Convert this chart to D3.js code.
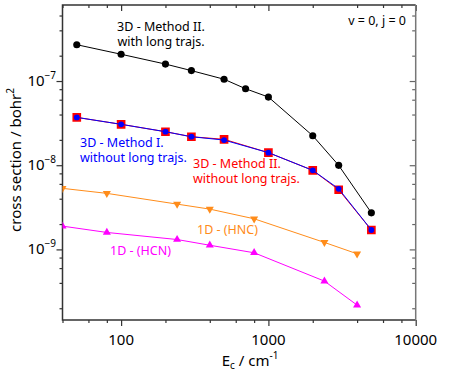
<!DOCTYPE html>
<html lang="en">
<head>
  <script src="https://d3js.org/d3.v7.min.js"></script>
  <style>
    body { margin: 0; background: #fff; }
    text { font-family: "Noto Sans", "Open Sans", sans-serif; }
  </style>
</head>
<body>
<script>
  // collision energies (cm^-1)
  const energy3D = [50, 100, 200, 300, 500, 700, 1000, 2000, 3000, 5000];
  const energyNoLong = [50, 100, 200, 300, 500, 1000, 2000, 3000, 5000];
  const energy1D = [40, 80, 240, 400, 800, 2400, 4000];

  // cross sections (bohr^2)
  const sigmaM2Long = [2.70e-7, 2.08e-7, 1.59e-7, 1.33e-7, 1.05e-7, 8.1e-8, 6.45e-8, 2.24e-8, 9.96e-9, 2.72e-9];
  const sigmaM2NoLong = [3.70e-8, 3.06e-8, 2.50e-8, 2.18e-8, 2.03e-8, 1.41e-8, 8.69e-9, 5.11e-9, 1.70e-9];
  const sigmaM1NoLong = [3.70e-8, 3.06e-8, 2.50e-8, 2.18e-8, 1.99e-8, 1.41e-8, 8.69e-9, 5.25e-9, 1.70e-9];
  const sigmaHNC = [5.31e-9, 4.63e-9, 3.45e-9, 3.01e-9, 2.31e-9, 1.21e-9, 8.87e-10];
  const sigmaHCN = [1.89e-9, 1.59e-9, 1.31e-9, 1.12e-9, 9.12e-10, 4.2e-10, 2.18e-10];

  // ticks
  const xMajor = [100, 1000, 10000];
  const xMinor = [40, 60, 80, 200, 400, 600, 800, 2000, 4000, 6000, 8000];
  const yMajor = [1e-9, 1e-8, 1e-7];
  const yMinor = [2e-10, 4e-10, 6e-10, 8e-10, 2e-9, 4e-9, 6e-9, 8e-9,
                  2e-8, 4e-8, 6e-8, 8e-8, 2e-7, 4e-7, 6e-7];

  const w = 463, h = 379;
  const padL = 62.5, padR = 415.7, padT = 5, padB = 320;

  const x = d3.scaleLog().domain([40, 10000]).range([padL, padR]);
  const y = d3.scaleLog().domain([1.45e-10, 8e-7]).range([padB, padT]);

  const svg = d3.select("body").append("svg")
      .attr("width", w).attr("height", h);

  svg.append("clipPath").attr("id", "plotclip")
    .append("rect")
      .attr("x", padL).attr("y", padT)
      .attr("width", padR - padL).attr("height", padB - padT);

  //axes: left/bottom ticks outward, top/right inward
  const axisColor = "#333";
  function drawAxis(g, color) {
    g.select(".domain").remove();
    g.selectAll("line").attr("stroke", color).attr("stroke-width", 1.2);
    g.selectAll("text").remove();
  }
  svg.append("g").attr("transform", `translate(0,${padB})`)
     .call(d3.axisBottom(x).tickValues(xMajor).tickSize(6)).call(g => drawAxis(g, axisColor));
  svg.append("g").attr("transform", `translate(0,${padB})`)
     .call(d3.axisBottom(x).tickValues(xMinor).tickSize(3)).call(g => drawAxis(g, axisColor));
  svg.append("g").attr("transform", `translate(0,${padT})`)
     .call(d3.axisTop(x).tickValues(xMajor).tickSize(-6)).call(g => drawAxis(g, axisColor));
  svg.append("g").attr("transform", `translate(0,${padT})`)
     .call(d3.axisTop(x).tickValues(xMinor).tickSize(-3)).call(g => drawAxis(g, axisColor));
  svg.append("g").attr("transform", `translate(${padL},0)`)
     .call(d3.axisLeft(y).tickValues(yMajor).tickSize(6)).call(g => drawAxis(g, axisColor));
  svg.append("g").attr("transform", `translate(${padL},0)`)
     .call(d3.axisLeft(y).tickValues(yMinor).tickSize(3)).call(g => drawAxis(g, axisColor));
  svg.append("g").attr("transform", `translate(${padR},0)`)
     .call(d3.axisRight(y).tickValues(yMajor).tickSize(-6)).call(g => drawAxis(g, "#666"));
  svg.append("g").attr("transform", `translate(${padR},0)`)
     .call(d3.axisRight(y).tickValues(yMinor).tickSize(-3.5)).call(g => drawAxis(g, "#666"));

  // frame
  svg.append("path")
     .attr("d", `M${padR},${padT}H${padL}V${padB}H${padR}`)
     .attr("fill", "none").attr("stroke", axisColor).attr("stroke-width", 1.5);
  svg.append("line")
     .attr("x1", padR).attr("x2", padR).attr("y1", padT).attr("y2", padB)
     .attr("stroke", "#777").attr("stroke-width", 1.5);

  // tick labels
  svg.selectAll(".xlab").data(xMajor).enter().append("text")
     .attr("x", d => x(d)).attr("y", 345)
     .attr("text-anchor", "middle").attr("font-size", 15)
     .text(d => d);
  const ylab = svg.selectAll(".ylab").data(yMajor).enter().append("text")
     .attr("x", 56).attr("y", d => y(d) + 5)
     .attr("text-anchor", "end").attr("font-size", 15);
  ylab.append("tspan").text("10");
  ylab.append("tspan").attr("dy", -7).attr("font-size", 10)
      .text(d => "\u2212" + Math.round(-Math.log10(d)));

  // axis titles
  const xt = svg.append("text").attr("x", 250).attr("y", 366)
     .attr("text-anchor", "middle").attr("font-size", 15);
  xt.append("tspan").text("E");
  xt.append("tspan").attr("font-size", 10).attr("dy", 3).text("c");
  xt.append("tspan").attr("dy", -3).text(" / cm");
  xt.append("tspan").attr("font-size", 10).attr("dy", -7).text("-1");

  const yt = svg.append("text")
     .attr("transform", "translate(21,160) rotate(-90)")
     .attr("text-anchor", "middle").attr("font-size", 15);
  yt.append("tspan").text("cross section / bohr");
  yt.append("tspan").attr("font-size", 10).attr("dy", -7).text("2");

  // series
  const plot = svg.append("g").attr("clip-path", "url(#plotclip)");
  const line = d3.line().x(d => x(d[0])).y(d => y(d[1]));
  const zip = (a, b) => a.map((v, i) => [v, b[i]]);

  function series(xs, ys, color, marker, size, fill) {
    const pts = zip(xs, ys);
    plot.append("path").datum(pts)
        .attr("d", line).attr("fill", "none")
        .attr("stroke", color).attr("stroke-width", 1);
    plot.selectAll(null).data(pts).enter().append("path")
        .attr("transform", d => `translate(${x(d[0])},${y(d[1])})`)
        .attr("d", d3.symbol().type(marker).size(size))
        .attr("fill", fill || color);
  }

  const triDown = {
    draw(ctx, size) {
      const s = Math.sqrt(size / 0.433) ;
      const hgt = s * Math.sqrt(3) / 2;
      ctx.moveTo(-s / 2, -hgt / 3);
      ctx.lineTo(s / 2, -hgt / 3);
      ctx.lineTo(0, 2 * hgt / 3);
      ctx.closePath();
    }
  };

  series(energy1D, sigmaHNC, "#ff8c1a", triDown, 28);
  series(energy1D, sigmaHCN, "#ff00ff", d3.symbolTriangle, 28);
  series(energy3D, sigmaM2Long, "#000000", d3.symbolCircle, 40);
  series(energyNoLong, sigmaM2NoLong, "#ff0000", d3.symbolSquare, 75);
  series(energyNoLong, sigmaM1NoLong, "#0000ff", d3.symbolCircle, 26);

  // annotations
  function label(lines, xp, yp, color, anchor) {
    lines.forEach((t, i) => {
      svg.append("text").attr("x", xp).attr("y", yp + i * 15.5)
         .attr("fill", color).attr("font-size", 12.5)
         .attr("text-anchor", anchor).text(t);
    });
  }
  label(["3D - Method II.", "with long trajs."], 161, 30.5, "#000", "middle");
  label(["3D - Method I.", "without long trajs."], 80, 146.5, "#0000ff", "start");
  label(["3D - Method II.", "without long trajs."], 193, 167.5, "#ff0000", "start");
  label(["1D - (HNC)"], 197, 234, "#ff8c1a", "start");
  label(["1D - (HCN)"], 110, 255, "#ff00ff", "start");
  label(["v = 0, j = 0"], 406, 25, "#000", "end");
</script>
</body>
</html>
